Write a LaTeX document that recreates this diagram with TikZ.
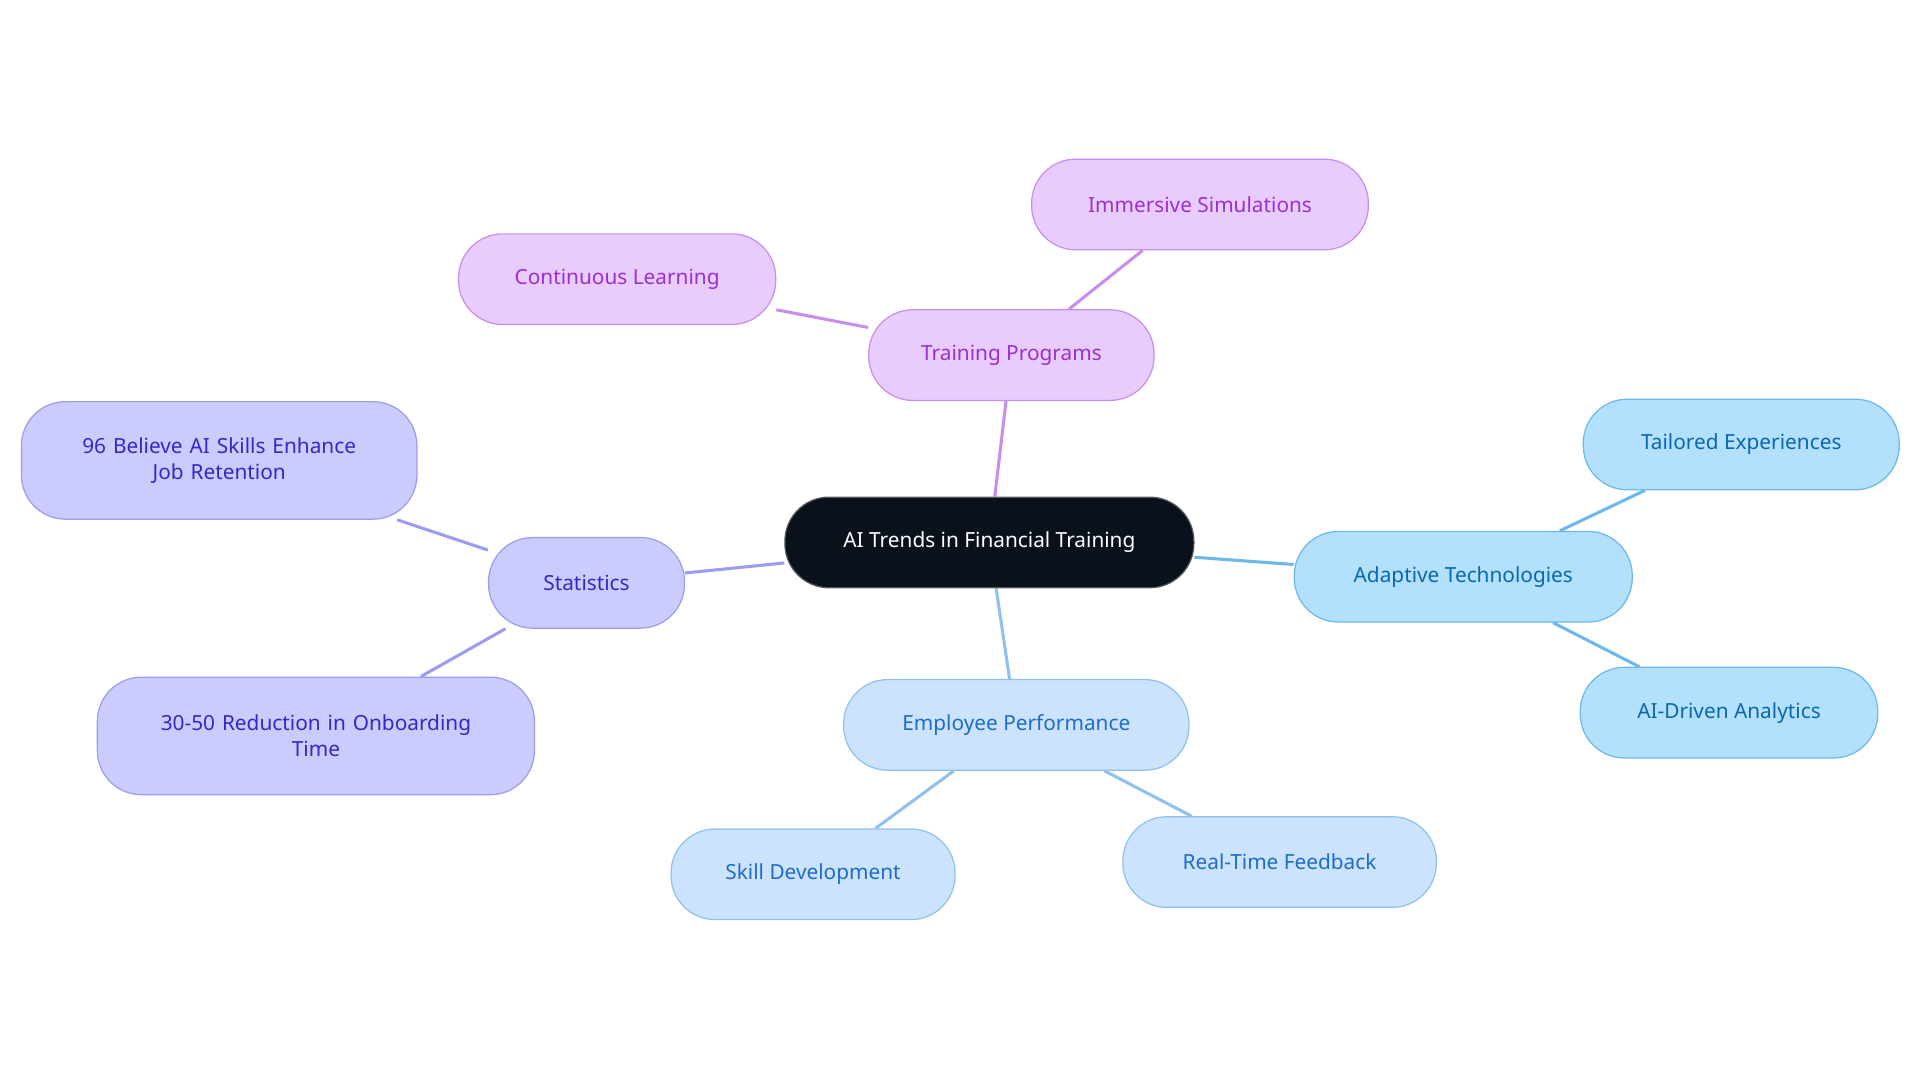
\documentclass[tikz,border=0pt]{standalone}
\usepackage{fontspec}
\setmainfont{Noto Sans}
\usetikzlibrary{backgrounds}
\definecolor{cfill}{HTML}{0B111B}
\definecolor{pfill}{HTML}{E8CCFD}\definecolor{pline}{HTML}{C98DEE}\definecolor{ptext}{HTML}{9A30D0}
\definecolor{sfill}{HTML}{CBCBFD}\definecolor{sline}{HTML}{9C9CEE}\definecolor{stext}{HTML}{3328C8}
\definecolor{afill}{HTML}{B3E0FD}\definecolor{aline}{HTML}{6CB8EC}\definecolor{atext}{HTML}{0A68B0}
\definecolor{efill}{HTML}{CCE3FD}\definecolor{eline}{HTML}{90C0EE}\definecolor{etext}{HTML}{1F6CC8}
\tikzset{
 box/.style={rounded corners=36pt,minimum height=74pt,inner sep=0pt,align=center,font=\fontsize{17}{21}\selectfont,draw,line width=1pt},
 tall/.style={minimum height=96pt},
 pbox/.style={box,fill=pfill,draw=pline,text=ptext},
 sbox/.style={box,fill=sfill,draw=sline,text=stext},
 abox/.style={box,fill=afill,draw=aline,text=atext},
 ebox/.style={box,fill=efill,draw=eline,text=etext},
 link/.style={line width=2.5pt}
}
\begin{document}
\begin{tikzpicture}[x=1pt,y=1pt]
\useasboundingbox (0,0) rectangle (1568,884);
\node[box,fill=cfill,draw=cfill!70,text=white,minimum width=334pt] (c) at (808,441) {AI Trends in Financial Training};
\node[pbox,minimum width=233pt] (tp) at (826,594) {Training Programs};
\node[pbox,minimum width=275pt] (is) at (980,717) {Immersive Simulations};
\node[pbox,minimum width=259pt] (cl) at (504,656) {Continuous Learning};
\node[sbox,minimum width=160pt] (st) at (479,408) {Statistics};
\node[sbox,tall,minimum width=323pt,text width=300pt] (s1) at (179,508) {96 Believe AI Skills Enhance\\Job Retention};
\node[sbox,tall,minimum width=357pt,text width=330pt] (s2) at (258,283) {30-50 Reduction in Onboarding\\Time};
\node[abox,minimum width=276pt] (at) at (1195,413) {Adaptive Technologies};
\node[abox,minimum width=258pt] (te) at (1422,521) {Tailored Experiences};
\node[abox,minimum width=243pt] (ad) at (1412,302) {AI-Driven Analytics};
\node[ebox,minimum width=282pt] (ep) at (830,292) {Employee Performance};
\node[ebox,minimum width=232pt] (sd) at (664,170) {Skill Development};
\node[ebox,minimum width=256pt] (rt) at (1045,180) {Real-Time Feedback};
\begin{scope}[on background layer]
\draw[link,pline] (c) -- (tp); \draw[link,pline] (tp) -- (is); \draw[link,pline] (tp) -- (cl);
\draw[link,sline] (c) -- (st); \draw[link,sline] (st) -- (s1); \draw[link,sline] (st) -- (s2);
\draw[link,aline] (c) -- (at); \draw[link,aline] (at) -- (te); \draw[link,aline] (at) -- (ad);
\draw[link,eline] (c) -- (ep); \draw[link,eline] (ep) -- (sd); \draw[link,eline] (ep) -- (rt);
\end{scope}
\end{tikzpicture}
\end{document}
